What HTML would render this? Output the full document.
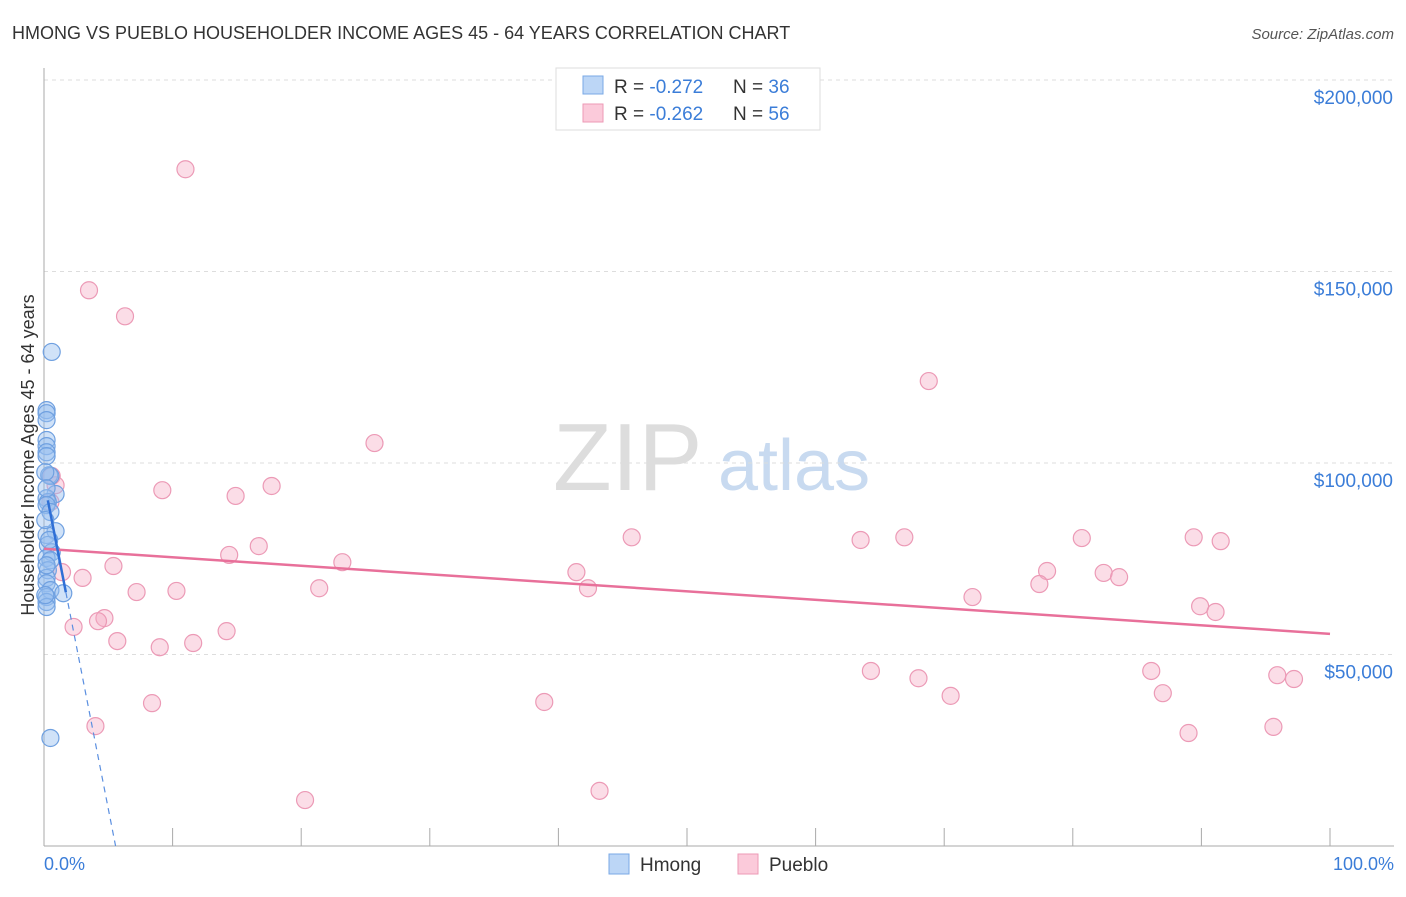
<!DOCTYPE html>
<html><head><meta charset="utf-8"><style>
body{margin:0;background:#fff;font-family:"Liberation Sans",sans-serif;}
svg text{font-family:"Liberation Sans",sans-serif;}
</style></head><body>
<svg id="c" width="1406" height="892">
<text x="12" y="39" font-size="18" fill="#333">HMONG VS PUEBLO HOUSEHOLDER INCOME AGES 45 - 64 YEARS CORRELATION CHART</text>
<text x="1394" y="39" font-size="15" fill="#555" font-style="italic" text-anchor="end">Source: ZipAtlas.com</text>
<text x="553" y="490" font-size="96" fill="#ddd" font-family="Liberation Serif">ZIP</text>
<text x="718" y="490" font-size="72" fill="#c8daf0">atlas</text>
<g id="grid"></g><g id="pts"></g><g id="lines"></g>
<text x="34" y="455" font-size="18" fill="#333" transform="rotate(-90 34 455)" text-anchor="middle">Householder Income Ages 45 - 64 years</text>
<text x="44" y="870" font-size="18" fill="#3b7dd8">0.0%</text>
<text x="1394" y="870" font-size="18" fill="#3b7dd8" text-anchor="end">100.0%</text>
<g>
<rect x="556" y="68" width="264" height="62" fill="#fff" stroke="#ddd"/>
<rect x="583" y="76" width="20" height="18" fill="#bcd6f6" stroke="#7aa8e6"/>
<rect x="583" y="104" width="20" height="18" fill="#fbcada" stroke="#ec9ab6"/>
<text x="614" y="93" font-size="19" fill="#333">R = <tspan fill="#3b7dd8">-0.272</tspan></text>
<text x="733" y="93" font-size="19" fill="#333">N = <tspan fill="#3b7dd8">36</tspan></text>
<text x="614" y="120" font-size="19" fill="#333">R = <tspan fill="#3b7dd8">-0.262</tspan></text>
<text x="733" y="120" font-size="19" fill="#333">N = <tspan fill="#3b7dd8">56</tspan></text>
</g>
<g>
<rect x="609" y="854" width="20" height="20" fill="#bcd6f6" stroke="#7aa8e6"/>
<text x="640" y="871" font-size="19" fill="#333">Hmong</text>
<rect x="738" y="854" width="20" height="20" fill="#fbcada" stroke="#ec9ab6"/>
<text x="769" y="871" font-size="19" fill="#333">Pueblo</text>
</g>
</svg>
<script>
const yTicks=[50000,100000,150000,200000];
const yTickLabels=["$50,000","$100,000","$150,000","$200,000"];
const hmongX=[0.6,0.2,0.2,0.2,0.2,0.2,0.2,0.2,0.4,0.5,0.1,0.9,0.2,0.3,0.2,0.5,0.9,0.2,0.3,0.6,0.2,0.5,0.3,0.2,0.2,0.5,1.5,0.2,0.2,0.2,0.1,0.5,0.2,0.4,0.1,0.2];
const hmongY=[129000,113800,113000,111200,106000,104400,102800,101800,96800,96600,97600,91900,90800,89800,89000,87200,82200,81200,78600,76700,75200,74600,72000,70000,68600,66800,66000,65000,63700,62400,65500,28200,73300,79900,85100,93400];
const puebloX=[11.0,3.5,6.3,68.8,25.7,0.6,0.9,9.2,14.9,17.7,0.5,45.7,63.5,66.9,80.7,89.4,91.5,16.7,14.4,23.2,5.4,1.4,3.0,41.4,78.0,82.4,83.6,21.4,10.3,7.2,42.3,72.2,77.4,89.9,91.1,4.7,4.2,2.3,14.2,5.7,11.6,9.0,64.3,86.1,68.0,95.9,97.2,8.4,38.9,70.5,87.0,4.0,89.0,95.6,20.3,43.2];
const puebloY=[176700,145100,138300,121400,105200,96600,94200,92900,91400,94000,89800,80600,79900,80600,80400,80600,79600,78300,76000,74100,73100,71500,70000,71500,71800,71300,70200,67300,66600,66300,67300,65000,68400,62600,61100,59500,58700,57200,56100,53500,53000,51900,45700,45700,43800,44600,43600,37300,37600,39200,39900,31300,29500,31100,12000,14400];
const hmongTrend=[95400,-17140];
const puebloTrend=[77600,-222];
const X0=44,X1=1330,Y0=846,PPD=191.5/50000;
const sx=v=>X0+(X1-X0)*v/100, sy=v=>Y0-v*PPD;
const NS="http://www.w3.org/2000/svg";
function mk(tag,attrs,parent){const e=document.createElementNS(NS,tag);for(const k in attrs)e.setAttribute(k,attrs[k]);parent.appendChild(e);return e;}
const grid=document.getElementById('grid'),pts=document.getElementById('pts'),lines=document.getElementById('lines');
yTicks.forEach((t,i)=>{
 const l=mk('line',{x1:X0,x2:1394,y1:sy(t),y2:sy(t),stroke:'#ddd','stroke-dasharray':'4,4'},grid);
 
 
 const tx=mk('text',{x:1393,y:sy(t)+24,'font-size':19,fill:'#3b7dd8','text-anchor':'end'},grid);
 tx.textContent=yTickLabels[i];
 
 
});
const ax=mk('line',{x1:X0,x2:X0,y1:68,y2:Y0,stroke:'#aaa'},grid);


const bx=mk('line',{x1:X0,x2:1394,y1:Y0,y2:Y0,stroke:'#aaa'},grid);


for(let k=0;k<=10;k++){const t=mk('line',{x1:sx(k*10),x2:sx(k*10),y1:828,y2:Y0,stroke:'#aaa'},grid);
 
 }
puebloX.forEach((x,i)=>{const c=mk('circle',{cx:sx(x),cy:sy(puebloY[i]),r:8.5,fill:'rgba(245,170,195,0.4)',stroke:'#ec9ab6','stroke-width':1.2},pts);
 
 });
hmongX.forEach((x,i)=>{const c=mk('circle',{cx:sx(x),cy:sy(hmongY[i]),r:8.5,fill:'rgba(150,190,240,0.45)',stroke:'#6fa0e0','stroke-width':1.2},pts);
 
 });
const pl=mk('line',{x1:sx(0),y1:sy(puebloTrend[0]),x2:sx(100),y2:sy(puebloTrend[0]+100*puebloTrend[1]),stroke:'#e8709a','stroke-width':2.5},lines);


const hy=x=>hmongTrend[0]+hmongTrend[1]*x;
const hl=mk('line',{x1:sx(0.3),y1:sy(hy(0.3)),x2:sx(1.7),y2:sy(hy(1.7)),stroke:'#2f6fd6','stroke-width':2.5},lines);


const xz=-hmongTrend[0]/hmongTrend[1];
const hd=mk('line',{x1:sx(1.7),y1:sy(hy(1.7)),x2:sx(xz),y2:sy(0),stroke:'#5b8fe0','stroke-width':1.2,'stroke-dasharray':'6,5'},lines);


</script>
</body></html>
